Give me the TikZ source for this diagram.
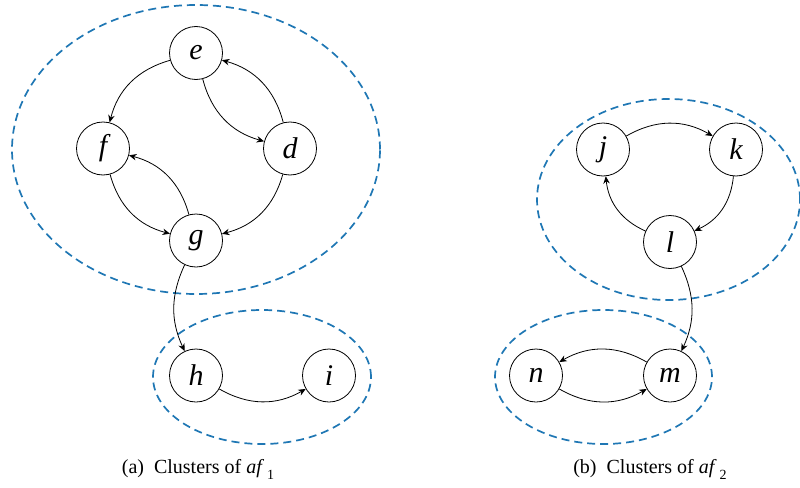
\documentclass[tikz,border=0pt]{standalone}
\usepackage{fontspec}
\setmainfont{Liberation Serif}
\usetikzlibrary{arrows.meta}
\definecolor{clusterblue}{RGB}{31,119,180}
\tikzset{
  vtx/.style={circle, draw, line width=0.8pt, minimum size=53pt, inner sep=0pt,
    font=\fontsize{30}{30}\selectfont\itshape},
  edge/.style={-{Stealth[length=7.5pt,width=6.5pt,inset=2.5pt]}, line width=0.8pt},
  cluster/.style={draw=clusterblue, line width=1.7pt, dash pattern=on 8pt off 5pt},
  captext/.style={font=\fontsize{20}{20}\selectfont, inner sep=0pt}
}
\newcommand{\afsub}[1]{\textit{af}\kern3pt\raisebox{-6pt}{\fontsize{14}{14}\selectfont #1}}
\begin{document}
\begin{tikzpicture}[x=1pt,y=1pt]
\useasboundingbox (0,0) rectangle (800,-487);
% clusters
\draw[cluster] (196,-149.5) ellipse [x radius=184pt, y radius=144.5pt];
\draw[cluster] (262,-377) ellipse [x radius=109pt, y radius=67pt];
\draw[cluster] (668.5,-199.5) ellipse [x radius=131.5pt, y radius=100.5pt];
\draw[cluster] (603.5,-377) ellipse [x radius=108.5pt, y radius=67pt];
% nodes left
\node[vtx] (e) at (196,-53) {e};
\node[vtx] (f) at (103,-148.5) {f};
\node[vtx] (d) at (290,-148.5) {d};
\node[vtx] (g) at (196,-240.5) {g};
\node[vtx] (h) at (196,-375.5) {h};
\node[vtx] (i) at (329,-375.5) {i};
% nodes right
\node[vtx] (j) at (603,-149.5) {j};
\node[vtx] (k) at (736,-149.5) {k};
\node[vtx] (l) at (670,-242) {l};
\node[vtx] (m) at (670,-375.5) {m};
\node[vtx] (n) at (536,-375.5) {n};
% edges left
\draw[edge] (e) to[bend right=30] (f);
\draw[edge] (e) to[bend right=30] (d);
\draw[edge] (d) to[bend right=30] (e);
\draw[edge] (f) to[bend right=30] (g);
\draw[edge] (g) to[bend right=30] (f);
\draw[edge] (d) to[bend left=30] (g);
\draw[edge] (g) to[bend right=25] (h);
\draw[edge] (h) to[bend right=30] (i);
% edges right
\draw[edge] (j) to[bend left=30] (k);
\draw[edge] (k) to[bend left=30] (l);
\draw[edge] (l) to[bend left=30] (j);
\draw[edge] (l) to[bend left=25] (m);
\draw[edge] (m) to[bend right=30] (n);
\draw[edge] (n) to[bend right=30] (m);
% captions
\node[captext, anchor=base] (capa) at (198,-473) {(a)\hspace{10pt}Clusters of \afsub{1}};
\node[captext, anchor=base] (capb) at (650,-473) {(b)\hspace{10pt}Clusters of \afsub{2}};
\end{tikzpicture}
\end{document}
